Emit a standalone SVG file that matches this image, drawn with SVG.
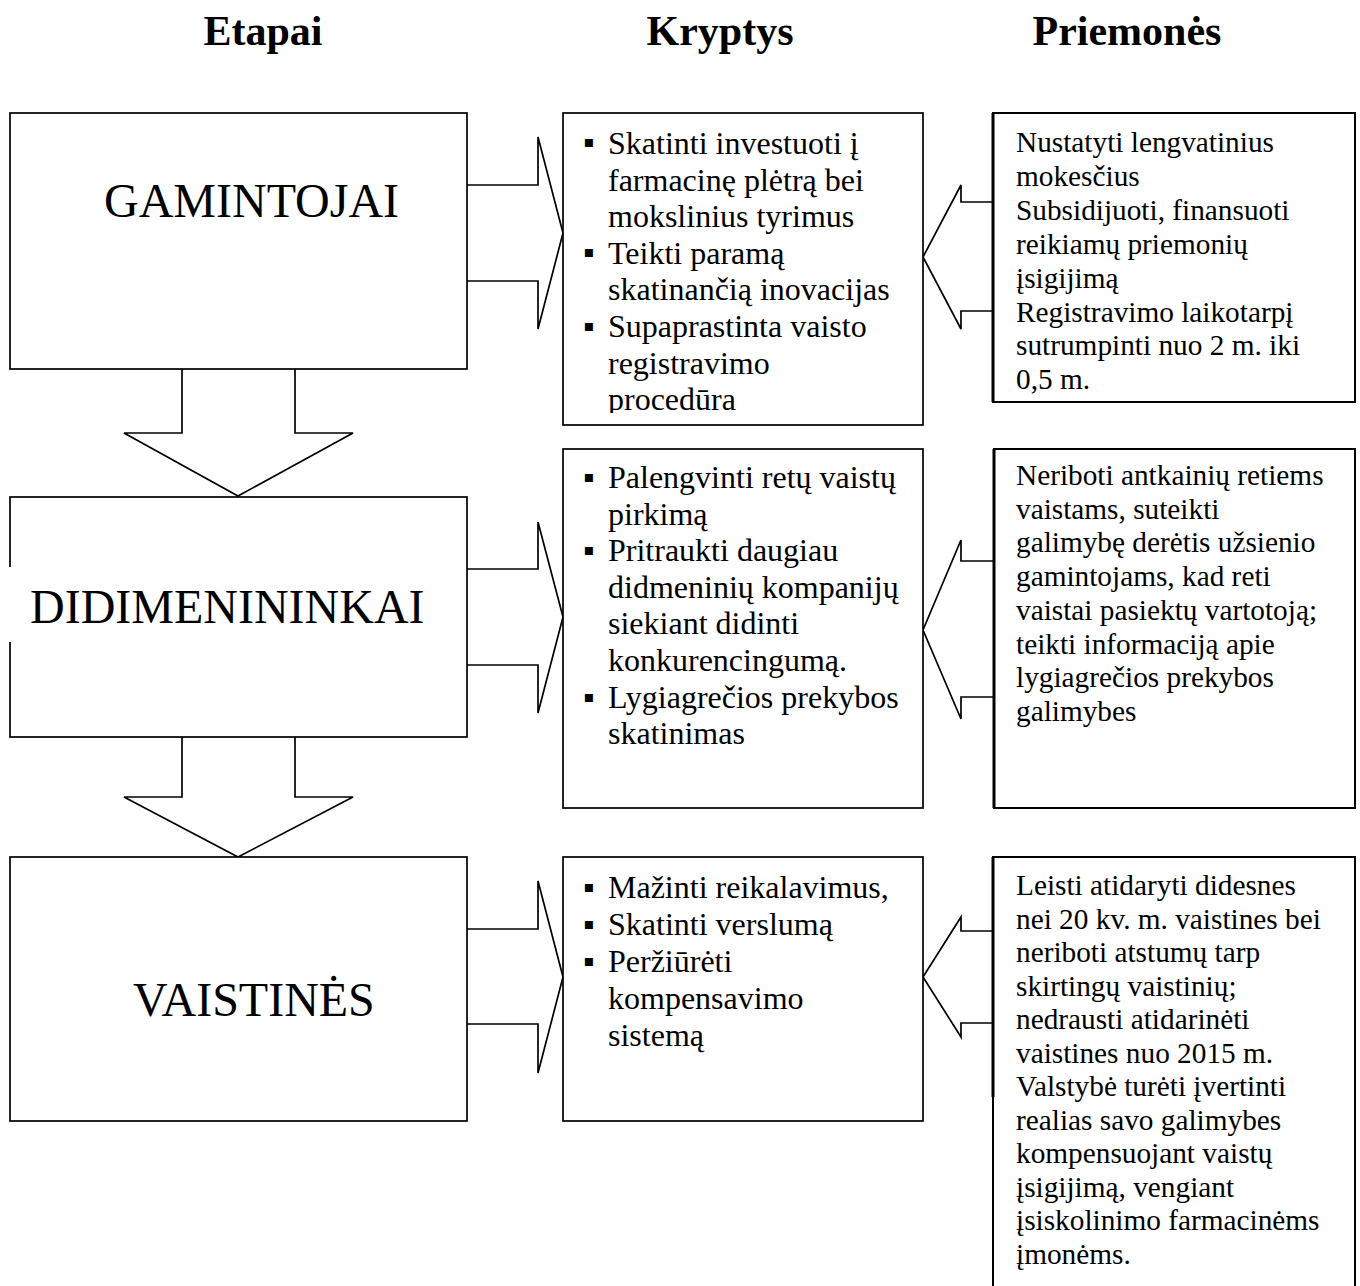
<svg xmlns="http://www.w3.org/2000/svg" width="1360" height="1286" viewBox="0 0 1360 1286">
<style>
  .bg { fill: #ffffff; }
  .box { fill: #ffffff; stroke: #000000; stroke-width: 1.7; }
  .pbox { fill: #ffffff; stroke: #000000; stroke-width: 2; }
  .edge { fill: none; stroke: #000000; stroke-width: 3; }
  .arrow { fill: none; stroke: #000000; stroke-width: 1.7; stroke-linejoin: miter; }
  .title { font-family: "Liberation Serif", "Times New Roman", serif; font-size: 42px; font-weight: bold; fill: #000000; text-anchor: middle; }
  .stage { font-family: "Liberation Serif", "Times New Roman", serif; font-size: 48px; fill: #000000; }
  .kt { font-family: "Liberation Serif", "Times New Roman", serif; font-size: 32px; fill: #000000; }
  .pt { font-family: "Liberation Serif", "Times New Roman", serif; font-size: 29.3px; fill: #000000; }
  .bul { font-family: "Liberation Serif", "DejaVu Sans", serif; font-size: 32px; fill: #000000; }
</style>
<defs>
  <clipPath id="clipK1"><rect x="563" y="113" width="360" height="300"/></clipPath>
</defs>
<rect class="bg" x="0" y="0" width="1360" height="1286"/>

<g id="titles">
  <text class="title" x="263" y="45">Etapai</text>
  <text class="title" x="720" y="45">Kryptys</text>
  <text class="title" x="1127" y="45">Priemonės</text>
</g>

<g id="connectors">
  <path class="arrow" d="M182,369 V433 H124 L238,496 L353,433 H295 V369"/>
  <path class="arrow" d="M182,737 V797 H124 L238,857 L353,797 H295 V737"/>
  <path class="arrow" d="M467,185 H538 V137 L563,233 L538,329 V281 H467"/>
  <path class="arrow" d="M467,569 H538 V522 L563,617 L538,713 V665 H467"/>
  <path class="arrow" d="M467,929 H538 V881 L563,977 L538,1073 V1024 H467"/>
  <path class="arrow" d="M993,202 H961 V185 L923,257 L961,329 V311 H993"/>
  <path class="arrow" d="M994,561 H961 V540 L923,630 L961,719 V697 H994"/>
  <path class="arrow" d="M993,931 H961 V917 L923,977 L961,1037 V1023 H993"/>
</g>

<g id="gamintojai">
  <rect class="box" x="10" y="113" width="457" height="256"/>
  <text class="stage" x="104" y="217">GAMINTOJAI</text>
</g>

<g id="didmenininkai">
  <rect class="box" x="10" y="497" width="457" height="240"/>
  <rect class="bg" x="7" y="567" width="6" height="75"/>
  <text class="stage" x="30" y="623">DIDIMENININKAI</text>
</g>

<g id="vaistines">
  <rect class="box" x="10" y="857" width="457" height="264"/>
  <text class="stage" x="133" y="1016">VAISTINĖS</text>
</g>

<g id="kryptys-1">
  <rect class="box" x="563" y="113" width="360" height="312"/>
  <g clip-path="url(#clipK1)">
    <text class="bul" x="583" y="153">▪</text>
    <text class="bul" x="583" y="263">▪</text>
    <text class="bul" x="583" y="337">▪</text>
    <text class="kt">
      <tspan x="608" y="154">Skatinti investuoti į</tspan>
      <tspan x="608" y="190.6">farmacinę plėtrą bei</tspan>
      <tspan x="608" y="227.2">mokslinius tyrimus</tspan>
      <tspan x="608" y="263.8">Teikti paramą</tspan>
      <tspan x="608" y="300.4">skatinančią inovacijas</tspan>
      <tspan x="608" y="337">Supaprastinta vaisto</tspan>
      <tspan x="608" y="373.6">registravimo</tspan>
      <tspan x="608" y="410.2">procedūra</tspan>
    </text>
  </g>
</g>

<g id="kryptys-2">
  <rect class="box" x="563" y="449" width="360" height="359"/>
  <text class="bul" x="583" y="488">▪</text>
  <text class="bul" x="583" y="561">▪</text>
  <text class="bul" x="583" y="708">▪</text>
  <text class="kt">
    <tspan x="608" y="488">Palengvinti retų vaistų</tspan>
    <tspan x="608" y="524.6">pirkimą</tspan>
    <tspan x="608" y="561.2">Pritraukti daugiau</tspan>
    <tspan x="608" y="597.8">didmeninių kompanijų</tspan>
    <tspan x="608" y="634.4">siekiant didinti</tspan>
    <tspan x="608" y="671">konkurencingumą.</tspan>
    <tspan x="608" y="707.6">Lygiagrečios prekybos</tspan>
    <tspan x="608" y="744.2">skatinimas</tspan>
  </text>
</g>

<g id="kryptys-3">
  <rect class="box" x="563" y="857" width="360" height="264"/>
  <text class="bul" x="583" y="898">▪</text>
  <text class="bul" x="583" y="935">▪</text>
  <text class="bul" x="583" y="972">▪</text>
  <text class="kt">
    <tspan x="608" y="898">Mažinti reikalavimus,</tspan>
    <tspan x="608" y="935">Skatinti verslumą</tspan>
    <tspan x="608" y="972">Peržiūrėti</tspan>
    <tspan x="608" y="1009">kompensavimo</tspan>
    <tspan x="608" y="1046">sistemą</tspan>
  </text>
</g>

<g id="priemones-1">
  <rect class="pbox" x="993" y="113" width="362" height="289"/>
  <path class="edge" d="M993,113 V402"/>
  <text class="pt">
    <tspan x="1016" y="152">Nustatyti lengvatinius</tspan>
    <tspan x="1016" y="185.9">mokesčius</tspan>
    <tspan x="1016" y="219.8">Subsidijuoti, finansuoti</tspan>
    <tspan x="1016" y="253.7">reikiamų priemonių</tspan>
    <tspan x="1016" y="287.6">įsigijimą</tspan>
    <tspan x="1016" y="321.5">Registravimo laikotarpį</tspan>
    <tspan x="1016" y="355.4">sutrumpinti nuo 2 m. iki</tspan>
    <tspan x="1016" y="389.3">0,5 m.</tspan>
  </text>
</g>

<g id="priemones-2">
  <rect class="pbox" x="994" y="449" width="361" height="359"/>
  <path class="edge" d="M994,449 V808"/>
  <text class="pt">
    <tspan x="1016" y="485">Neriboti antkainių retiems</tspan>
    <tspan x="1016" y="518.7">vaistams, suteikti</tspan>
    <tspan x="1016" y="552.4">galimybę derėtis užsienio</tspan>
    <tspan x="1016" y="586.1">gamintojams, kad reti</tspan>
    <tspan x="1016" y="619.8">vaistai pasiektų vartotoją;</tspan>
    <tspan x="1016" y="653.5">teikti informaciją apie</tspan>
    <tspan x="1016" y="687.2">lygiagrečios prekybos</tspan>
    <tspan x="1016" y="720.9">galimybes</tspan>
  </text>
</g>

<g id="priemones-3">
  <path class="pbox" d="M993,1290 V857 H1355 V1290"/>
  <path class="edge" d="M993,857 V1097"/>
  <text class="pt">
    <tspan x="1016" y="895">Leisti atidaryti didesnes</tspan>
    <tspan x="1016" y="928.5">nei 20 kv. m. vaistines bei</tspan>
    <tspan x="1016" y="962">neriboti atstumų tarp</tspan>
    <tspan x="1016" y="995.5">skirtingų vaistinių;</tspan>
    <tspan x="1016" y="1029">nedrausti atidarinėti</tspan>
    <tspan x="1016" y="1062.5">vaistines nuo 2015 m.</tspan>
    <tspan x="1016" y="1096">Valstybė turėti įvertinti</tspan>
    <tspan x="1016" y="1129.5">realias savo galimybes</tspan>
    <tspan x="1016" y="1163">kompensuojant vaistų</tspan>
    <tspan x="1016" y="1196.5">įsigijimą, vengiant</tspan>
    <tspan x="1016" y="1230">įsiskolinimo farmacinėms</tspan>
    <tspan x="1016" y="1263.5">įmonėms.</tspan>
  </text>
</g>
</svg>
